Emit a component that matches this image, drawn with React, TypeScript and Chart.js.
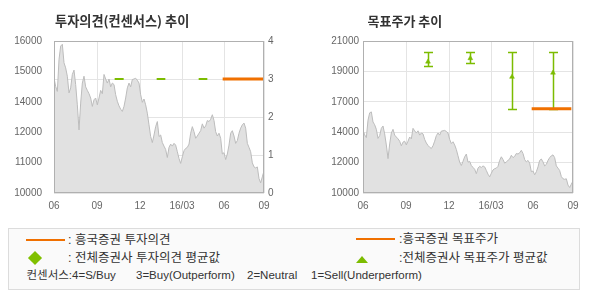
import React, { useEffect, useRef } from "react";
import { Chart, registerables } from "chart.js";
Chart.register(...registerables);

// ---- data ----
const xTickValues = [0, 25.8, 51.6, 76.8, 102, 126];
const xTickLabels = ["06", "09", "12", "16/03", "06", "09"];

const priceValues = [
  14540, 14210, 14010, 15270, 15800, 15870, 15140, 14940, 14610, 13950,
  14150, 14680, 14850, 14280, 13480, 12490, 13550, 14340, 14610, 14190,
  14050, 13920, 13750, 13420, 13680, 13750, 13480, 13750, 14050, 13920,
  14680, 14500, 14340, 14500, 14190, 14340, 14280, 13880, 13620, 13440,
  13310, 13220, 13420, 13750, 14150, 14340, 14190, 14480, 14500, 14530,
  14450, 14340, 13880, 13580, 13710, 13480, 13150, 12690, 12230, 11990,
  12290, 12620, 12820, 12230, 12290, 11990, 11850, 11720, 11400, 11800,
  11930, 11850, 11960, 11890, 11630, 11360, 11170, 11430, 11670, 11760,
  11800, 11930, 12360, 12620, 12420, 12160, 12250, 12360, 12460, 12730,
  12560, 12650, 12860, 12820, 12910, 13090, 12860, 12420, 12250, 12360,
  12160, 11540, 11590, 11320, 11540, 11890, 12360, 12460, 12250, 11960,
  12070, 12360, 12560, 12690, 12760, 12560, 11960, 11800, 11630, 11190,
  11030, 10990, 11030, 10570, 10400, 10640, 10870,
];

const leftPriceTickValues = [10000, 11200, 12400, 13600, 14800, 16000];
const leftPriceTickLabels = ["10000", "11000", "12000", "14000", "15000", "16000"];
const opinionTickLabels = ["0", "1", "2", "3", "4"];

const rightPriceTickValues = [10000, 12200, 14400, 16600, 18800, 21000];
const rightPriceTickLabels = ["10000", "12000", "14000", "17000", "19000", "21000"];

// consensus (all brokers) opinion periods
const consensusStart = [36.4, 61.6, 86.8, 111.8];
const consensusEnd = [41.8, 66.8, 92.0, 117.0];
const consensusOpinion = [3, 3, 3, 3];

// house (흥국증권) opinion / target
const houseStart = 101.2;
const houseEnd = 125.4;
const houseOpinion = 3;
const houseTarget = 16100;

// consensus target prices
const targetX = [39.0, 64.4, 89.4, 114.0];
const targetHigh = [20200, 20200, 20200, 20200];
const targetLow = [19200, 19400, 16100, 16100];
const targetAvg = [19500, 19750, 18400, 18700];

// ---- styles ----
const GREEN = "#7cbc00";
const ORANGE = "#f07000";
const GRID = "#e4e4e4";
const FRAME = "#b0b0b0";
const TICK_FONT = { family: "'Liberation Sans', Arial, sans-serif", size: 10 };
const TICK_COLOR = "#666";

const framePlugin = {
  id: "frame",
  afterDatasetsDraw(chart: any) {
    const { ctx, chartArea: a } = chart;
    ctx.save();
    ctx.strokeStyle = FRAME;
    ctx.lineWidth = 1;
    ctx.strokeRect(a.left + 0.5, a.top + 0.5, a.right - a.left - 1, a.bottom - a.top - 1);
    ctx.restore();
  },
};

const errorBarPlugin = {
  id: "errbars",
  beforeDatasetsDraw(chart: any) {
    const { ctx } = chart;
    const xs = chart.scales.x;
    const ys = chart.scales.y;
    ctx.save();
    ctx.strokeStyle = GREEN;
    ctx.lineWidth = 1.5;
    targetX.forEach((xv, i) => {
      const x = Math.round(xs.getPixelForValue(xv)) + 0.5;
      const yh = Math.round(ys.getPixelForValue(targetHigh[i])) + 0.5;
      const yl = Math.round(ys.getPixelForValue(targetLow[i])) + 0.5;
      ctx.beginPath();
      ctx.moveTo(x, yh);
      ctx.lineTo(x, yl);
      ctx.moveTo(x - 4.5, yh);
      ctx.lineTo(x + 4.5, yh);
      ctx.moveTo(x - 4.5, yl);
      ctx.lineTo(x + 4.5, yl);
      ctx.stroke();
    });
    ctx.restore();
  },
};

function xScale() {
  return {
    type: "linear" as const,
    min: 0,
    max: 126,
    afterBuildTicks: (s: any) => {
      s.ticks = xTickValues.map((v) => ({ value: v }));
    },
    afterFit: (s: any) => {
      s.height = 22;
    },
    ticks: {
      autoSkip: false,
      maxRotation: 0,
      padding: 7,
      color: TICK_COLOR,
      font: TICK_FONT,
      callback: (_v: any, i: number) => xTickLabels[i],
    },
    grid: { color: GRID, drawTicks: false },
    border: { display: false },
  };
}

function priceDataset(axis: string) {
  return {
    type: "line" as const,
    data: priceValues.map((v, i) => ({ x: i, y: v })),
    yAxisID: axis,
    borderColor: "#bcbcbc",
    backgroundColor: "#e1e1e1",
    borderWidth: 1,
    pointRadius: 0,
    fill: "start",
    tension: 0,
    order: 10,
  };
}

function LeftChart() {
  const ref = useRef<HTMLCanvasElement>(null);
  useEffect(() => {
    const consensusData: any[] = [];
    consensusStart.forEach((s, i) => {
      consensusData.push({ x: s, y: consensusOpinion[i] });
      consensusData.push({ x: consensusEnd[i], y: consensusOpinion[i] });
      consensusData.push({ x: (consensusEnd[i] + (consensusStart[i + 1] ?? 126)) / 2, y: null });
    });
    const chart = new Chart(ref.current!, {
      type: "line",
      data: {
        datasets: [
          {
            data: [
              { x: houseStart, y: houseOpinion },
              { x: houseEnd, y: houseOpinion },
            ],
            yAxisID: "y1",
            borderColor: ORANGE,
            borderWidth: 3,
            pointRadius: 0,
            order: 0,
          },
          {
            data: consensusData,
            yAxisID: "y1",
            borderColor: GREEN,
            borderWidth: 2,
            pointRadius: 0,
            spanGaps: false,
            order: 1,
          },
          priceDataset("y") as any,
        ],
      },
      options: {
        animation: false,
        responsive: false,
        events: [],
        parsing: false as any,
        normalized: true,
        layout: { padding: { top: 41, left: 0, right: 0, bottom: 0 } },
        plugins: { legend: { display: false }, tooltip: { enabled: false } },
        scales: {
          x: xScale() as any,
          y: {
            type: "linear",
            position: "left",
            min: 10000,
            max: 16000,
            afterBuildTicks: (s: any) => {
              s.ticks = leftPriceTickValues.map((v) => ({ value: v }));
            },
            afterFit: (s: any) => {
              s.width = 54;
            },
            ticks: {
              padding: 4,
              color: TICK_COLOR,
              font: TICK_FONT,
              callback: (_v: any, i: number) => leftPriceTickLabels[i],
            },
            grid: { display: false },
            border: { display: false },
          },
          y1: {
            type: "linear",
            position: "right",
            min: 0,
            max: 4,
            ticks: {
              stepSize: 1,
              padding: 4,
              color: TICK_COLOR,
              font: TICK_FONT,
              callback: (_v: any, i: number) => opinionTickLabels[i],
            },
            afterFit: (s: any) => {
              s.width = 31;
            },
            grid: { color: GRID, drawTicks: false },
            border: { display: false },
          },
        },
      },
      plugins: [framePlugin],
    });
    return () => chart.destroy();
  }, []);
  return (
    <canvas
      ref={ref}
      width={295}
      height={215}
      style={{ position: "absolute", left: 0, top: 0, width: 295, height: 215 }}
    />
  );
}

function RightChart() {
  const ref = useRef<HTMLCanvasElement>(null);
  useEffect(() => {
    const chart = new Chart(ref.current!, {
      type: "line",
      data: {
        datasets: [
          {
            data: [
              { x: houseStart, y: houseTarget },
              { x: 125, y: houseTarget },
            ],
            borderColor: ORANGE,
            borderWidth: 3,
            pointRadius: 0,
            order: 0,
          },
          {
            data: targetX.map((x, i) => ({ x, y: targetAvg[i] })),
            showLine: false,
            pointStyle: "triangle",
            pointRadius: 2.8,
            backgroundColor: GREEN,
            borderColor: GREEN,
            borderWidth: 0.5,
            order: 1,
          },
          priceDataset("y") as any,
        ],
      },
      options: {
        animation: false,
        responsive: false,
        events: [],
        parsing: false as any,
        layout: { padding: { top: 41, left: 0, right: 17, bottom: 0 } },
        plugins: { legend: { display: false }, tooltip: { enabled: false } },
        scales: {
          x: xScale() as any,
          y: {
            type: "linear",
            position: "left",
            min: 10000,
            max: 21000,
            afterBuildTicks: (s: any) => {
              s.ticks = rightPriceTickValues.map((v) => ({ value: v }));
            },
            afterFit: (s: any) => {
              s.width = 68;
            },
            ticks: {
              padding: 4,
              color: TICK_COLOR,
              font: TICK_FONT,
              callback: (_v: any, i: number) => rightPriceTickLabels[i],
            },
            grid: { color: GRID, drawTicks: false },
            border: { display: false },
          },
        },
      },
      plugins: [framePlugin, errorBarPlugin],
    });
    return () => chart.destroy();
  }, []);
  return (
    <canvas
      ref={ref}
      width={295}
      height={215}
      style={{ position: "absolute", left: 295, top: 0, width: 295, height: 215 }}
    />
  );
}

const KFONT = "'Liberation Sans', 'Noto Sans CJK KR', sans-serif";

function Txt(props: { x: number; y: number; children: any; size?: number; bold?: boolean }) {
  const size = props.size ?? 12.5;
  return (
    <div
      style={{
        position: "absolute",
        left: props.x,
        top: props.y - size / 2 - 1,
        fontFamily: props.bold ? "'Noto Sans CJK KR', sans-serif" : KFONT,
        fontSize: size,
        fontWeight: props.bold ? 700 : 400,
        lineHeight: `${size + 2}px`,
        color: "#333",
        whiteSpace: "pre",
      }}
    >
      {props.children}
    </div>
  );
}

export default function App() {
  return (
    <div style={{ position: "absolute", left: 0, top: 0, width: 590, height: 300, background: "#fff" }}>
      <LeftChart />
      <RightChart />
      <Txt x={55} y={20.5} size={13.2} bold>
        투자의견(컨센서스) 추이
      </Txt>
      <Txt x={367.5} y={20.5} size={13} bold>
        목표주가 추이
      </Txt>

      <div
        style={{
          position: "absolute",
          left: 8,
          top: 228,
          width: 572,
          height: 62,
          boxSizing: "border-box",
          border: "1px solid #dcdcdc",
          background: "#fafafa",
        }}
      />
      <div style={{ position: "absolute", left: 26, top: 239, width: 39, height: 2, background: ORANGE }} />
      <Txt x={68} y={240}>: 흥국증권 투자의견</Txt>
      <div
        style={{
          position: "absolute",
          left: 30,
          top: 253,
          width: 10,
          height: 10,
          background: "#80c000",
          transform: "rotate(45deg)",
        }}
      />
      <Txt x={68} y={258}>: 전체증권사 투자의견 평균값</Txt>

      <div style={{ position: "absolute", left: 356, top: 238, width: 39, height: 2, background: ORANGE }} />
      <Txt x={399} y={239}>:흥국증권 목표주가</Txt>
      <div
        style={{
          position: "absolute",
          left: 356,
          top: 256,
          width: 0,
          height: 0,
          borderLeft: "6.5px solid transparent",
          borderRight: "6.5px solid transparent",
          borderBottom: "7px solid #7cbc00",
        }}
      />
      <Txt x={399} y={258}>:전체증권사 목표주가 평균값</Txt>

      <Txt x={26.5} y={276} size={11.5}>컨센서스:4=S/Buy</Txt>
      <Txt x={136} y={276} size={11.5}>3=Buy(Outperform)</Txt>
      <Txt x={247} y={276} size={11.5}>2=Neutral</Txt>
      <Txt x={311} y={276} size={11.5}>1=Sell(Underperform)</Txt>
    </div>
  );
}
